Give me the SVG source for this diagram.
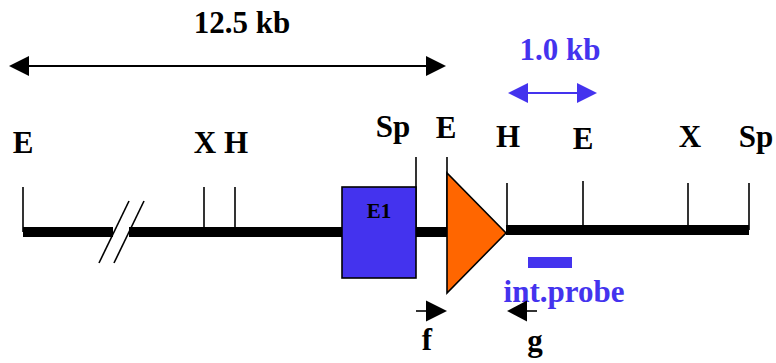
<svg xmlns="http://www.w3.org/2000/svg" width="776" height="363" viewBox="0 0 776 363">
<style>
.lbl{font-family:"Liberation Serif","Times New Roman",serif;font-weight:bold;font-size:31px;fill:#000}
.blue{fill:#4433EE}
.tick{stroke:#000;stroke-width:1.6;fill:none}
.dna{stroke:#000;stroke-width:10;fill:none}
</style>
<g id="scale-12kb">
<line x1="26" y1="66" x2="429" y2="66" stroke="#000" stroke-width="2"/>
<path d="M9,66L29,56L29,76z" fill="#000"/>
<path d="M446,66L426,56L426,76z" fill="#000"/>
<text class="lbl" x="242" y="33" text-anchor="middle">12.5 kb</text>
</g>
<g id="scale-1kb">
<line x1="525" y1="93" x2="580" y2="93" stroke="#4433EE" stroke-width="2"/>
<path d="M508,93L528,83L528,103z" fill="#4433EE"/>
<path d="M597,93L577,83L577,103z" fill="#4433EE"/>
<text class="lbl blue" x="560" y="60" text-anchor="middle">1.0 kb</text>
</g>
<g id="dna">
<line class="dna" x1="23" y1="232" x2="113" y2="232"/>
<line class="dna" x1="129" y1="232" x2="343" y2="232"/>
<line class="dna" x1="416" y1="232" x2="447" y2="232"/>
<line class="dna" x1="506" y1="230" x2="749" y2="230"/>
<line x1="129" y1="201" x2="99" y2="263" stroke="#000" stroke-width="1.6"/>
<line x1="144" y1="201" x2="114" y2="263" stroke="#000" stroke-width="1.6"/>
</g>
<g id="sites">
<line class="tick" x1="23" y1="187" x2="23" y2="232"/>
<line class="tick" x1="204" y1="187" x2="204" y2="232"/>
<line class="tick" x1="235" y1="187" x2="235" y2="232"/>
<line class="tick" x1="416" y1="157" x2="416" y2="232"/>
<line class="tick" x1="447" y1="157" x2="447" y2="232"/>
<line class="tick" x1="507" y1="183" x2="507" y2="230"/>
<line class="tick" x1="583" y1="181" x2="583" y2="230"/>
<line class="tick" x1="688" y1="183" x2="688" y2="230"/>
<line class="tick" x1="749" y1="183" x2="749" y2="230"/>
<text class="lbl" x="23" y="153" text-anchor="middle">E</text>
<text class="lbl" x="205" y="153" text-anchor="middle">X</text>
<text class="lbl" x="236" y="153" text-anchor="middle">H</text>
<text class="lbl" x="393" y="137" text-anchor="middle">Sp</text>
<text class="lbl" x="446" y="138" text-anchor="middle">E</text>
<text class="lbl" x="508" y="147" text-anchor="middle">H</text>
<text class="lbl" x="583" y="149" text-anchor="middle">E</text>
<text class="lbl" x="690" y="147" text-anchor="middle">X</text>
<text class="lbl" x="756" y="147" text-anchor="middle">Sp</text>
</g>
<g id="exon1">
<rect x="342" y="187" width="74" height="91" fill="#4433EE" stroke="#000" stroke-width="1.6"/>
<text x="379" y="218" text-anchor="middle" font-family="Liberation Serif, Times New Roman, serif" font-weight="bold" font-size="21" fill="#000">E1</text>
</g>
<g id="cassette">
<path d="M447,173L447,293L506,233z" fill="#FF6600" stroke="#000" stroke-width="1.6"/>
</g>
<g id="probe">
<rect x="528" y="257" width="44" height="11" fill="#4433EE"/>
<text class="lbl blue" x="564" y="302" text-anchor="middle">int.probe</text>
</g>
<g id="primer-f">
<line x1="416" y1="311" x2="430" y2="311" stroke="#000" stroke-width="1.6"/>
<path d="M447,311L426,300.5L426,321.5z" fill="#000"/>
<text class="lbl" x="427" y="350" text-anchor="middle">f</text>
</g>
<g id="primer-g">
<line x1="522" y1="311" x2="537" y2="311" stroke="#000" stroke-width="1.6"/>
<path d="M507,311L527,300.5L527,321.5z" fill="#000"/>
<text class="lbl" x="535" y="351" text-anchor="middle">g</text>
</g>
</svg>
